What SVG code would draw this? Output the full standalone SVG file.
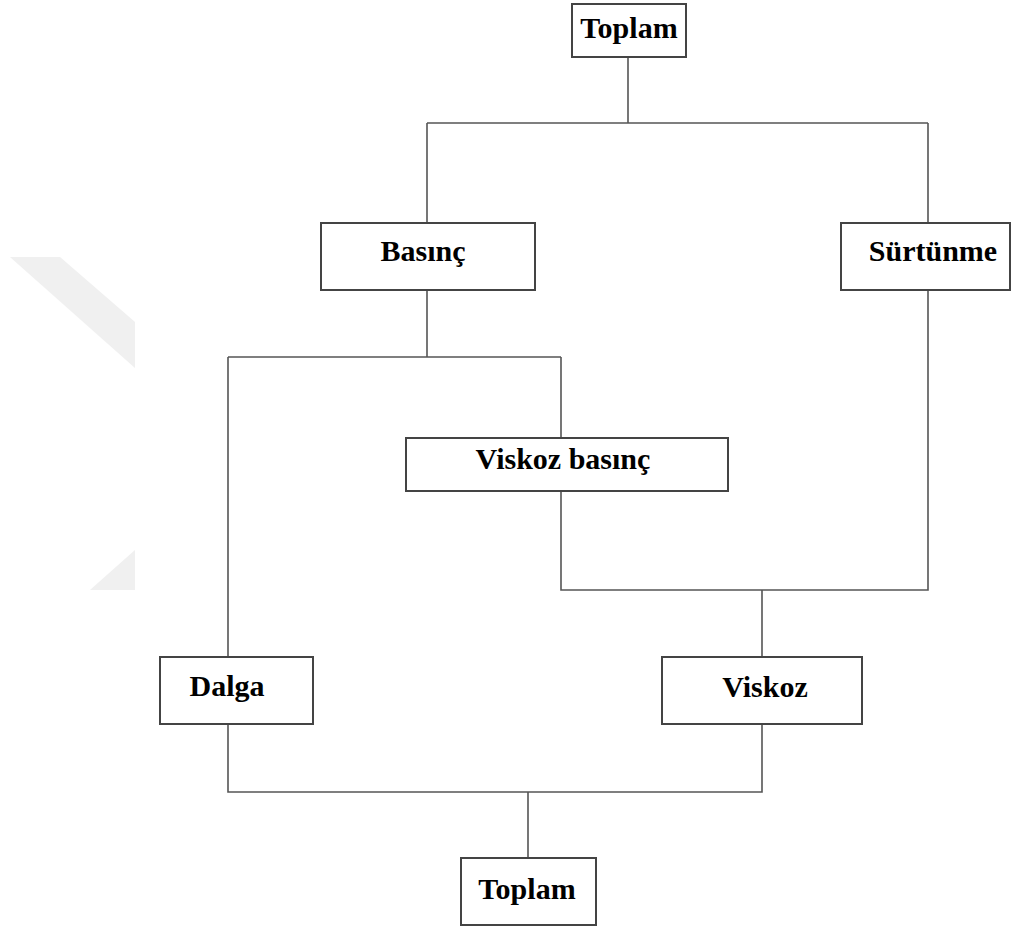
<svg xmlns="http://www.w3.org/2000/svg" width="1012" height="926" viewBox="0 0 1012 926">
<style>
.box{fill:#fff;stroke:#444;stroke-width:2}
.lbl{font-family:"Liberation Serif","Times New Roman",serif;font-weight:bold;font-size:30px;fill:#000;text-anchor:middle}
.wire{fill:none;stroke:#555;stroke-width:1.6}
.wm{fill:#f0f0f0;stroke:none}
</style>
<rect width="1012" height="926" fill="#fff"/>
<g id="watermark">
<polygon class="wm" points="10,257 60,257 135,322 135,368"/>
<polygon class="wm" points="90,590 135,550 135,590"/>
</g>
<g id="connectors">
<path class="wire" d="M628,57 V123 M427,123 H928 M427,123 V223 M928,123 V223"/>
<path class="wire" d="M427,290 V357 M228,357 H561 M228,357 V657 M561,357 V438"/>
<path class="wire" d="M561,491 V590 H928 V290 M762,590 V657"/>
<path class="wire" d="M228,724 V792 H762 V724 M528,792 V858"/>
</g>
<g id="toplam-top"><rect class="box" x="572" y="4" width="114" height="53"/><text class="lbl" x="629" y="38">Toplam</text></g>
<g id="basinc"><rect class="box" x="321" y="223" width="214" height="67"/><text class="lbl" x="423" y="261">Basınç</text></g>
<g id="surtunme"><rect class="box" x="841" y="223" width="169" height="67"/><text class="lbl" x="933" y="261">Sürtünme</text></g>
<g id="viskoz-basinc"><rect class="box" x="406" y="438" width="322" height="53"/><text class="lbl" x="563" y="469">Viskoz basınç</text></g>
<g id="dalga"><rect class="box" x="160" y="657" width="153" height="67"/><text class="lbl" x="227" y="696">Dalga</text></g>
<g id="viskoz"><rect class="box" x="662" y="657" width="200" height="67"/><text class="lbl" x="765" y="697">Viskoz</text></g>
<g id="toplam-bottom"><rect class="box" x="461" y="858" width="135" height="67"/><text class="lbl" x="527" y="899">Toplam</text></g>
</svg>
